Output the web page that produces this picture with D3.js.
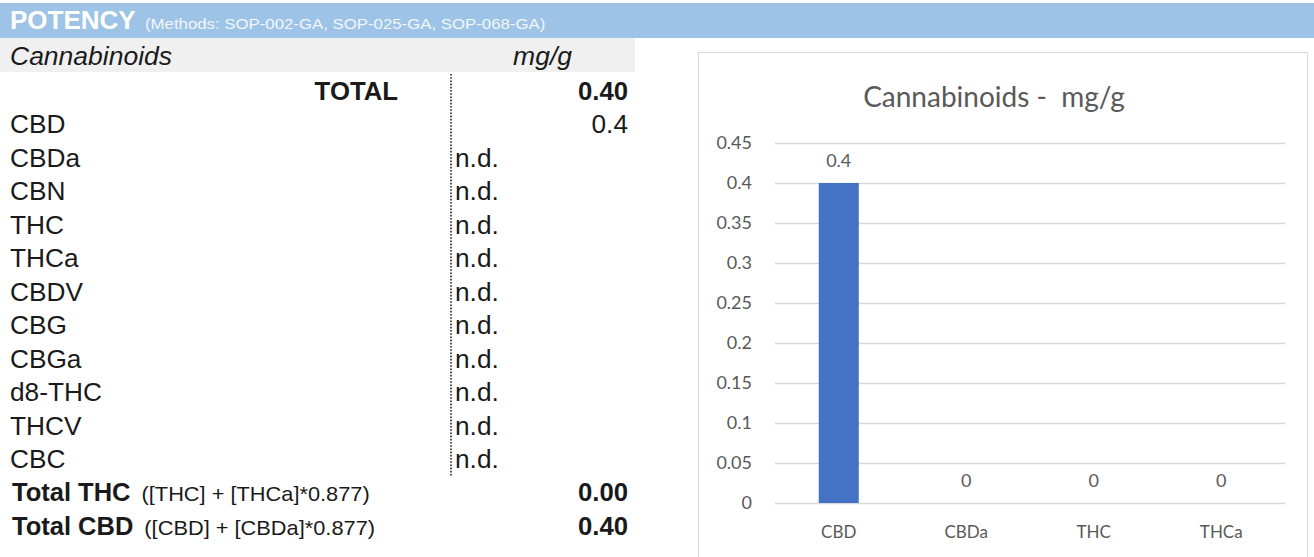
<!DOCTYPE html>
<html><head><meta charset="utf-8">
<script src="https://cdn.jsdelivr.net/npm/d3@7"></script>
<style>
html,body{margin:0;padding:0;background:#fff;}
svg{display:block;}
text{white-space:pre;}
</style></head>
<body>
<svg id="c" width="1314" height="557"></svg>
<script>
// ---- data ----
const tableNames = ["CBD","CBDa","CBN","THC","THCa","CBDV","CBG","CBGa","d8-THC","THCV","CBC"];
const tableResults = ["0.4","n.d.","n.d.","n.d.","n.d.","n.d.","n.d.","n.d.","n.d.","n.d.","n.d."];
const totalValue = "0.40";
const totalRows = ["Total THC","Total CBD"];
const totalFormulas = ["([THC] + [THCa]*0.877)","([CBD] + [CBDa]*0.877)"];
const totalValues = ["0.00","0.40"];
const chartCategories = ["CBD","CBDa","THC","THCa"];
const chartValues = [0.4, 0, 0, 0];
const yTicks = [0,0.05,0.1,0.15,0.2,0.25,0.3,0.35,0.4,0.45];

const svg = d3.select("#c");
const F = "'Liberation Sans', Arial, sans-serif";
const SX = 1.05;

function txt(x, y, s, o) {
  o = o || {};
  const t = svg.append("text")
    .attr("transform", `translate(${x},${y}) scale(${o.sx || SX},1)`)
    .attr("font-family", o.family || F)
    .attr("font-size", o.size || 25)
    .attr("fill", o.fill || "#1a1a1a")
    .attr("text-anchor", o.anchor || "start")
    .text(s);
  if (o.bold) t.attr("font-weight", "bold");
  if (o.italic) t.attr("font-style", "italic");
  return t;
}

// header band
svg.append("rect").attr("x",0).attr("y",3).attr("width",1314).attr("height",35).attr("fill","#9dc3e6");
txt(10, 29, "POTENCY", {bold:true, size:25, fill:"#fff", sx:1.04});
txt(145, 29, "(Methods: SOP-002-GA, SOP-025-GA, SOP-068-GA)", {size:14, fill:"#f2f7fc", sx:1.2});

// gray header row
svg.append("rect").attr("x",0).attr("y",38).attr("width",635).attr("height",34).attr("fill","#f0f0f0");
txt(10, 65, "Cannabinoids", {italic:true, sx:1.06});
txt(572, 65, "mg/g", {italic:true, anchor:"end", sx:1.06});

// table rows
const rowY = i => 100 + 33.45 * i;
txt(398, rowY(0), "TOTAL", {bold:true, anchor:"end", sx:1.03});
txt(628, rowY(0), totalValue, {bold:true, anchor:"end", sx:1.03});

tableNames.forEach((n,i)=>{
  const y = rowY(i+1);
  txt(10, y, n);
  const r = tableResults[i];
  if (r === "n.d.") txt(455, y, r);
  else txt(628, y, r, {anchor:"end"});
});
// dotted separator
svg.append("line").attr("x1",451).attr("x2",451).attr("y1",74).attr("y2",477)
  .attr("stroke","#222").attr("stroke-width",1.6).attr("stroke-dasharray","1.6,1.6");

totalRows.forEach((n,i)=>{
  const y = rowY(tableNames.length+1+i);
  const b = txt(12, y, n, {bold:true, sx:1.02});
  const w = b.node().getBBox().width * 1.02;
  txt(12 + w + 11, y, totalFormulas[i], {size:20, sx:1.09});
  txt(628, y, totalValues[i], {bold:true, anchor:"end", sx:1.03});
});

// ---- chart ----
const CF = "Lato, 'Open Sans', sans-serif";
svg.append("rect").attr("x",698.5).attr("y",52.5).attr("width",609).attr("height",506).attr("fill","#fff").attr("stroke","#d9d9d9");
svg.append("text").attr("x",994).attr("y",107).attr("text-anchor","middle").attr("font-family",CF).attr("font-size",28).attr("fill","#595959").text("Cannabinoids -  mg/g");

const x = d3.scaleBand().domain(chartCategories).range([775,1285]).paddingInner(0.686).paddingOuter(0.343);
const y = d3.scaleLinear().domain([0,0.45]).range([503,143]);

const gy = svg.append("g").attr("transform","translate(775,0)")
  .call(d3.axisLeft(y).tickValues(yTicks).tickSize(-510).tickFormat(d=>String(+d.toFixed(2))));
gy.select(".domain").remove();
gy.selectAll(".tick line").attr("stroke","#d9d9d9").attr("stroke-width",1.3);
gy.selectAll(".tick text").attr("x",-23).attr("font-family",CF).attr("font-size",18).attr("fill","#595959");

svg.selectAll(".bar").data(chartValues).enter().append("rect")
  .attr("x",(d,i)=>x(chartCategories[i])).attr("width",x.bandwidth())
  .attr("y",d=>y(d)).attr("height",d=>y(0)-y(d)).attr("fill","#4472c4");

svg.selectAll(".lbl").data(chartValues).enter().append("text")
  .attr("x",(d,i)=>x(chartCategories[i])+x.bandwidth()/2)
  .attr("y",d=>y(d)-16).attr("text-anchor","middle").attr("font-family",CF).attr("font-size",18).attr("fill","#595959")
  .text(d=>d);

const gx = svg.append("g").attr("transform","translate(0,503)").call(d3.axisBottom(x).tickSize(0));
gx.select(".domain").remove();
gx.selectAll(".tick text").attr("y",23).attr("dy","0.71em").attr("font-family",CF).attr("font-size",17).attr("fill","#595959");
</script>
</body></html>
